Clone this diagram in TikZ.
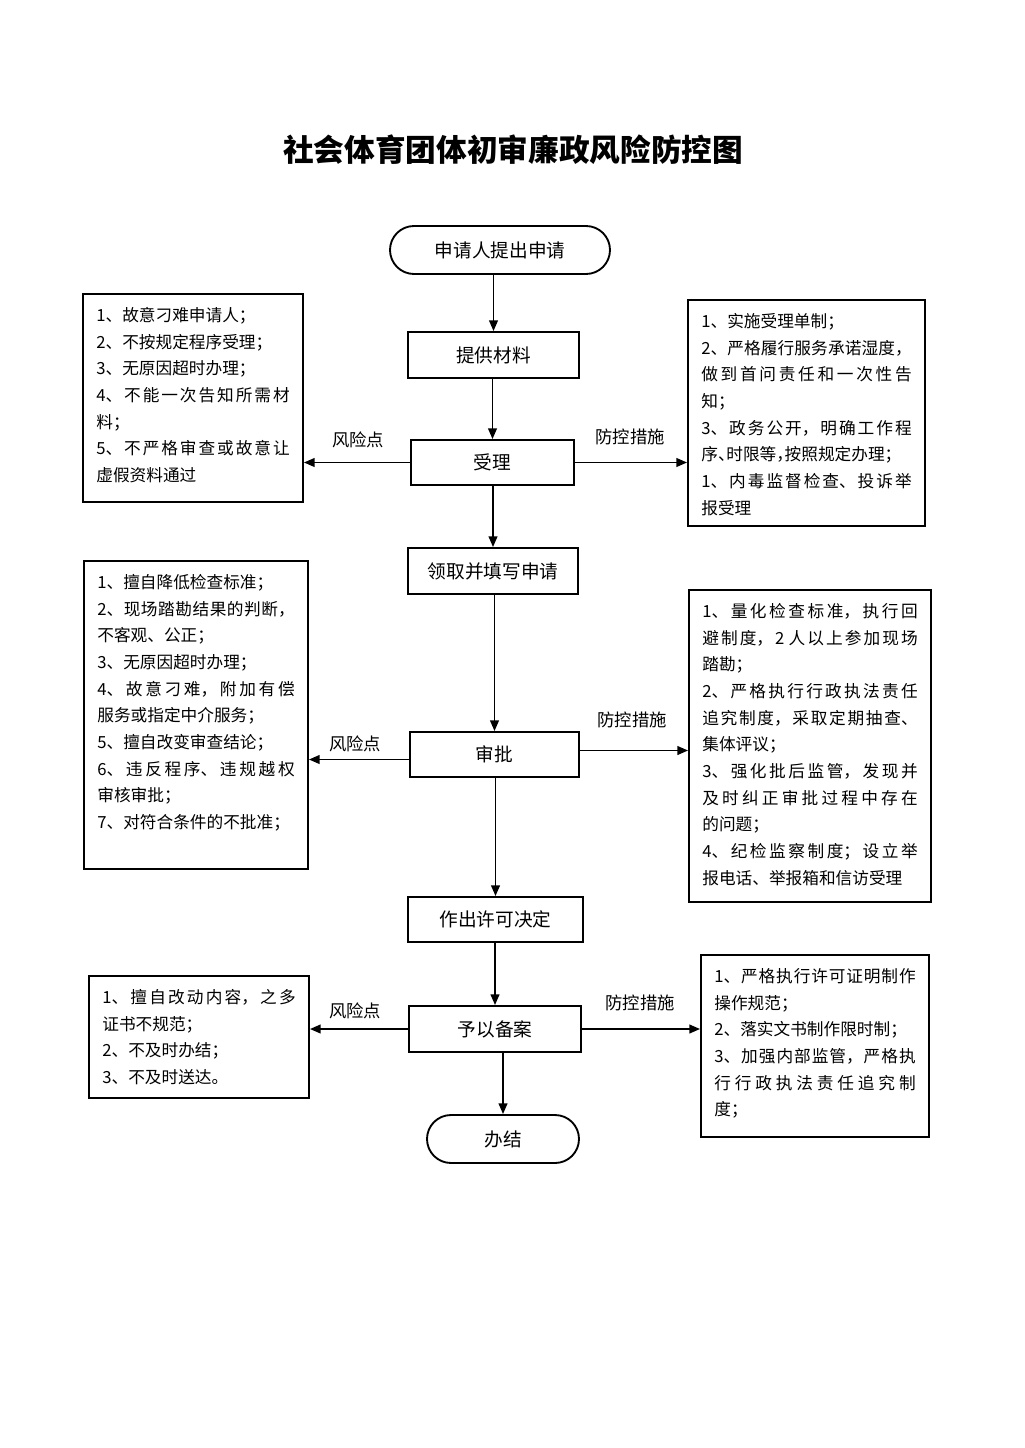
\documentclass[tikz,border=0pt]{standalone}
\usepackage{fontspec}
\setmainfont{Noto Sans CJK SC}
\newfontfamily\cjkhalt{Noto Sans CJK SC}[RawFeature=+halt]
\usetikzlibrary{arrows.meta,calc}
\XeTeXlinebreaklocale "zh"
\XeTeXlinebreakskip=0pt plus 5pt minus 0.8pt
\tolerance=9999
\hbadness=10000
\newcommand{\sidetxt}[3]{\parbox[c][#2][t]{#1}{\fontsize{12.5pt}{20pt}\selectfont #3}}
\begin{document}
\begin{tikzpicture}[x=0.75pt,y=-0.75pt,
  flow/.style={draw, line width=1.4pt, inner sep=0pt, font=\fontsize{14pt}{16pt}\selectfont},
  term/.style={flow, rounded corners=18pt, minimum height=36pt},
  side/.style={draw, line width=1.4pt, inner xsep=10pt, inner ysep=10pt},
  arr/.style={-{Triangle[length=8pt,width=6.5pt]}, line width=1.4pt},
  lab/.style={inner sep=0pt, font=\fontsize{13pt}{15pt}\selectfont}]
\useasboundingbox (0,0) rectangle (1024,1448);
\fill[white] (0,0) rectangle (1024,1448);

\node[inner sep=0pt, font=\fontsize{23pt}{26pt}\selectfont\bfseries] (title) at (513,150) {社会体育团体初审廉政风险防控图};

% main flow
\node[term, minimum width=165pt] (s) at (500,250) {申请人提出申请};
\node[flow, minimum width=128.25pt, minimum height=34.5pt] (p1) at (493.5,355) {提供材料};
\node[flow, minimum width=122.25pt, minimum height=33.75pt] (p2) at (492.5,462.5) {受理};
\node[flow, minimum width=127.5pt, minimum height=34.5pt] (p3) at (493,571) {领取并填写申请};
\node[flow, minimum width=126.75pt, minimum height=33.75pt] (p4) at (494.5,754.5) {审批};
\node[flow, minimum width=131.25pt, minimum height=33.75pt] (p5) at (495.5,919.5) {作出许可决定};
\node[flow, minimum width=129pt, minimum height=34.5pt] (p6) at (495,1029) {予以备案};
\node[term, minimum width=114pt] (e) at (503,1139) {办结};

% side boxes
\node[side] (L1) at (193,398) {\sidetxt{145pt}{136pt}{%
1、故意刁难申请人；\par
2、不按规定程序受理；\par
3、无原因超时办理；\par
4、不能一次告知所需材\linebreak 料；\par
5、不严格审查或故意让\linebreak 虚假资料通过}};

\node[side] (R1) at (806.5,413) {\sidetxt{157.75pt}{149.5pt}{%
1、实施受理单制；\par
2、严格履行服务承诺湿度，\linebreak 做到首问责任和一次性告\linebreak 知；\par
3、政务公开，明确工作程\linebreak {\cjkhalt 序、时限等，按照规定办理；}\par
1、内毒监督检查、投诉举\linebreak 报受理}};

\node[side] (L2) at (196,715) {\sidetxt{148pt}{211pt}{%
1、擅自降低检查标准；\par
2、现场踏勘结果的判断，\linebreak 不客观、公正；\par
3、无原因超时办理；\par
4、故意刁难，附加有偿\linebreak 服务或指定中介服务；\par
5、擅自改变审查结论；\par
6、违反程序、违规越权\linebreak 审核审批；\par
7、对符合条件的不批准；}};

\node[side] (R2) at (810,746) {\sidetxt{161.5pt}{214pt}{%
1、量化检查标准，执行回\linebreak 避制度，2 人以上参加现场\linebreak 踏勘；\par
2、严格执行行政执法责任\linebreak 追究制度，采取定期抽查、\linebreak 集体评议；\par
3、强化批后监管，发现并\linebreak 及时纠正审批过程中存在\linebreak 的问题；\par
4、纪检监察制度；设立举\linebreak 报电话、举报箱和信访受理}};

\node[side] (L3) at (199,1037) {\sidetxt{145pt}{71.5pt}{%
1、擅自改动内容，之多\linebreak 证书不规范；\par
2、不及时办结；\par
3、不及时送达。}};

\node[side] (R3) at (815,1046) {\sidetxt{151pt}{116.5pt}{%
1、严格执行许可证明制作\linebreak 操作规范；\par
2、落实文书制作限时制；\par
3、加强内部监管，严格执\linebreak 行行政执法责任追究制\linebreak 度；}};

% vertical arrows
\draw[arr] (s.south -| p1.north) -- (p1.north);
\draw[arr] (p1.south -| p2.north) -- (p2.north);
\draw[arr] (p2.south -| p3.north) -- (p3.north);
\draw[arr] (p3.south -| p4.north) -- (p4.north);
\draw[arr] (p4.south -| p5.north) -- (p5.north);
\draw[arr] (p5.south -| p6.north) -- (p6.north);
\draw[arr] (p6.south -| e.north) -- (e.north);

% horizontal arrows
\draw[arr] (p2.west) -- (p2.west -| L1.east);
\draw[arr] (p2.east) -- (p2.east -| R1.west);
\coordinate (a4l) at ($(p4.west)+(0,5)$);
\coordinate (a4r) at ($(p4.east)+(0,-4)$);
\draw[arr] (a4l) -- (a4l -| L2.east);
\draw[arr] (a4r) -- (a4r -| R2.west);
\draw[arr] (p6.west) -- (p6.west -| L3.east);
\draw[arr] (p6.east) -- (p6.east -| R3.west);

% labels
\node[lab] (k1) at (358,440) {风险点};
\node[lab] (f1) at (630,437) {防控措施};
\node[lab] (k2) at (355,744) {风险点};
\node[lab] (f2) at (632,720) {防控措施};
\node[lab] (k3) at (355,1011) {风险点};
\node[lab] (f3) at (640,1003) {防控措施};
\end{tikzpicture}
\end{document}
